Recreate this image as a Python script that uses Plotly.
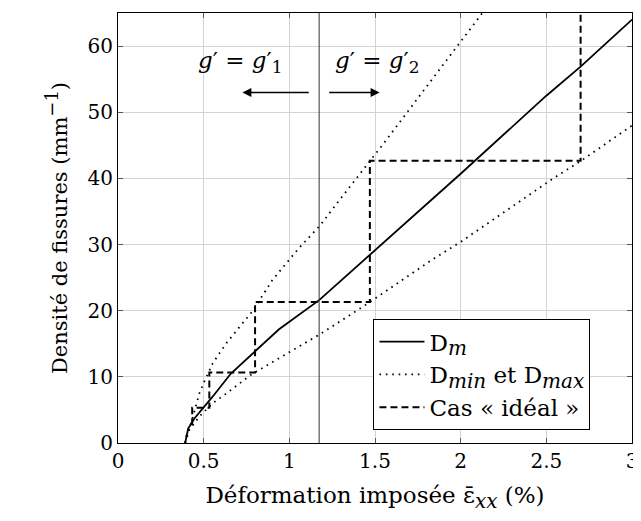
import plotly.graph_objects as go

# Courbe moyenne D_m
dm_x = [0.392, 0.40, 0.41, 0.446, 0.504, 0.552, 0.659, 0.784, 0.861, 0.94, 1.174, 1.47, 2.0, 2.5, 2.7, 3.0]
dm_y = [0.0, 1.2, 2.2, 3.7, 5.5, 7.0, 10.5, 13.5, 15.3, 17.2, 21.6, 28.4, 40.7, 52.5, 56.9, 64.0]

# Bornes D_max / D_min
dmax_x = [0.392, 0.398, 0.427, 0.475, 0.504, 0.552, 0.59, 0.639, 0.79, 0.90, 1.054, 1.18, 1.286, 1.392, 1.47, 1.557, 1.866, 2.0, 2.2]
dmax_y = [0.0, 1.0, 3.0, 7.5, 9.3, 12.0, 13.5, 15.3, 20.1, 24.6, 29.4, 32.9, 36.5, 40.0, 42.6, 45.5, 56.1, 60.6, 67.5]
dmin_x = [0.392, 0.417, 0.475, 0.552, 0.659, 0.775, 0.919, 1.17, 1.315, 1.47, 1.634, 1.827, 2.006, 2.25, 2.54, 2.7, 3.0]
dmin_y = [0.0, 2.0, 4.0, 6.0, 8.0, 10.3, 12.5, 16.3, 18.7, 21.3, 24.2, 27.6, 30.5, 34.8, 40.0, 42.6, 48.0]

# Cas ideal (escalier)
ideal_x = [0.433, 0.433, 0.533, 0.533, 0.80, 0.80, 1.47, 1.47, 2.70, 2.70]
ideal_y = [2.67, 5.33, 5.33, 10.67, 10.67, 21.33, 21.33, 42.67, 42.67, 70.0]

x_sep = 1.174

FONT = "DejaVu Serif"


def sub(t, size=19, ital=True):
    if ital:
        t = '<i>%s</i>' % t
    return '<sub><span style="font-size:%dpx">%s</span></sub>' % (size, t)


fig = go.Figure()
fig.add_trace(go.Scatter(x=dm_x, y=dm_y, mode='lines', name='D' + sub('m', 20),
                         line=dict(color='black', width=1.8), legendrank=1))
fig.add_trace(go.Scatter(x=dmax_x, y=dmax_y, mode='lines',
                         name='D' + sub('min', 20) + ' et D' + sub('max', 20),
                         line=dict(color='black', width=1.8, dash='1.6px,4.8px'), legendrank=2))
fig.add_trace(go.Scatter(x=dmin_x, y=dmin_y, mode='lines', showlegend=False,
                         line=dict(color='black', width=1.8, dash='1.6px,4.8px')))
fig.add_trace(go.Scatter(x=ideal_x, y=ideal_y, mode='lines', name='Cas « idéal »',
                         line=dict(color='black', width=2, dash='7px,4px'), legendrank=3))

fig.add_vline(x=x_sep, line=dict(color='#333333', width=1))

fig.add_annotation(x=0.715, y=57.6, text='<i>g</i>′ = <i>g</i>′' + sub('1', 17, False),
                   showarrow=False, font=dict(size=23, family=FONT, color='black'))
fig.add_annotation(x=1.515, y=57.6, text='<i>g</i>′ = <i>g</i>′' + sub('2', 17, False),
                   showarrow=False, font=dict(size=23, family=FONT, color='black'))
fig.add_annotation(x=0.726, y=53.0, ax=1.122, ay=53.0, xref='x', yref='y', axref='x', ayref='y',
                   text='', showarrow=True, arrowhead=2, arrowsize=1.2, arrowwidth=1.5, arrowcolor='black')
fig.add_annotation(x=1.527, y=53.0, ax=1.224, ay=53.0, xref='x', yref='y', axref='x', ayref='y',
                   text='', showarrow=True, arrowhead=2, arrowsize=1.2, arrowwidth=1.5, arrowcolor='black')

axis_style = dict(showgrid=True, gridcolor='#d3d3d3', gridwidth=1,
                  showline=True, linecolor='black', linewidth=1, mirror='ticks',
                  ticks='inside', ticklen=5, tickcolor='#555555',
                  zeroline=False, tickfont=dict(size=20, family=FONT, color='black'))

fig.update_xaxes(range=[0, 3], dtick=0.5, tickangle=0, automargin=False,
                 ticklabeloverflow='allow',
                 title=dict(text='Déformation imposée ε̄' + sub('xx', 20) + ' (%)',
                            font=dict(size=23, family=FONT, color='black'), standoff=20),
                 **axis_style)
fig.update_yaxes(range=[0, 65], dtick=10, automargin=False,
                 title=dict(text='Densité de fissures (mm<sup><span style="font-size:18px">−1</span></sup>)',
                            font=dict(size=21, family=FONT, color='black'), standoff=14),
                 **axis_style)

# page has an 8px body margin, so the figure is sized to fit the 641x521 window
fig.update_layout(
    width=625, height=505,
    margin=dict(l=110, r=1, t=5, b=70),
    plot_bgcolor='white', paper_bgcolor='white',
    font=dict(family=FONT, color='black'),
    legend=dict(x=0.497, y=0.03, xanchor='left', yanchor='bottom',
                bgcolor='white', bordercolor='black', borderwidth=1,
                font=dict(size=23, family=FONT, color='black'),
                itemwidth=45, traceorder='normal'),
)

fig.write_html("out.html")
